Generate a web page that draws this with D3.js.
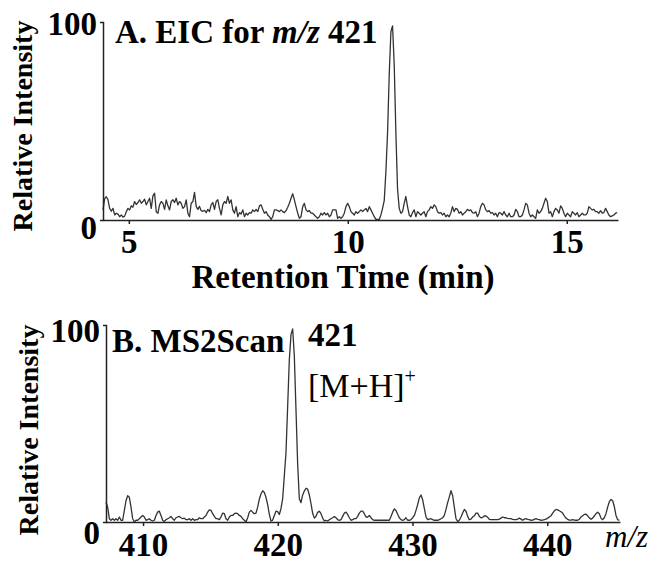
<!DOCTYPE html>
<html>
<head>
<meta charset="utf-8">
<script src="https://cdn.jsdelivr.net/npm/d3@7"></script>
<style>
body { margin: 0; background: #fff; }
</style>
</head>
<body>
<div id="chart"></div>
<script>
var w = 657;
var h = 563;
var serif = '"Liberation Serif", "Times New Roman", Times, serif';

// Panel A: extracted ion chromatogram for m/z 421 (one value per scan)
var eicStart = 4.41;   // first scan, min
var eicStep = 0.038;   // scan interval, min
var eicIntensity = [
  5.2, 11, 12, 10.4, 6, 4.5, 6, 2.6, 3.5, 3, 1.7, 2.6, 1.5, 2, 4.3, 6, 5.2, 7.3, 6.6, 9.5,
  8, 9, 10.4, 8.6, 9.5, 10.7, 7.8, 9.5, 11.2, 6, 12.4, 13.8, 4.3, 3.5, 7.8, 9.5, 8.6, 5.5, 10.4, 7.3,
  5.2, 9.5, 10.4, 9, 11.2, 7.8, 9.5, 8.6, 6, 6.9, 10.4, 3.5, 1.7, 8.6, 9.5, 14.2, 7, 5.5, 7, 4.8,
  4.5, 5, 3.8, 5.5, 4.3, 7.8, 9, 5.5, 9.5, 10.4, 6, 2.6, 7.8, 9.5, 8.6, 12.1, 8.6, 10.4, 5.2, 3.5,
  6.9, 1.7, 3.8, 3.1, 5.2, 1.7, 3.5, 2.6, 3.8, 3.5, 5.2, 4.3, 5.5, 4.3, 7.3, 7.8, 5.5, 3.5, 4.3, 2.6,
  1.7, 0.3, 1.7, 5.2, 5.2, 4.8, 4.3, 5.2, 4.3, 3.8, 4.8, 6.6, 8.6, 11.2, 13.5, 10.4, 6.9, 3.5, 0.9, 1.7,
  6.9, 8.6, 5.2, 4.3, 4.8, 3.5, 3.5, 2.6, 1.7, 0.9, 1.7, 3.5, 2.6, 3.8, 2.6, 3.5, 1.7, 2.6, 5.2, 5.2,
  5.2, 0.9, 1.7, 0.9, 1.7, 3.5, 6.9, 8.6, 6.9, 4.3, 3.5, 2.6, 4.3, 3.5, 4.3, 5.2, 4.3, 5.2, 6, 4.3,
  6.9, 5.2, 3.5, 1.7, 0.3, 0.3, 0.3, 2.6, 6, 10, 25, 45, 75, 97, 100, 80, 45, 16, 6, 3.5,
  4.3, 8.6, 12.1, 6.9, 2.6, 1.7, 3.8, 5.2, 1.7, 4.3, 3.5, 2.6, 3.5, 4.3, 1.7, 4.3, 5.2, 6.9, 6, 7.8,
  6.9, 4.3, 3.5, 3.8, 2.6, 3.5, 1.7, 2.6, 1.7, 3.5, 6.9, 4.3, 6, 5.5, 3.5, 4.3, 2.6, 3.5, 4.3, 5.5,
  4.8, 5.2, 3.8, 3.5, 4.3, 1.7, 3.5, 6.9, 8.6, 7.8, 5.2, 4.3, 4.8, 3.5, 3.8, 2.6, 3.5, 1.7, 3.8, 3.5,
  2.6, 4.3, 2.6, 1.7, 3.5, 1.7, 1.7, 2.6, 5.5, 4.3, 1.7, 1.7, 2.6, 5.2, 8.6, 7.8, 3.5, 1.7, 2.6, 1.7,
  0.9, 5.2, 3.5, 4.3, 6, 8.6, 11.2, 9.5, 3.5, 4.3, 1.7, 4.3, 6, 5.2, 3.5, 7.3, 6, 3.5, 1.7, 3.5,
  2.6, 1.7, 4.3, 3.5, 2.6, 3.8, 1.7, 2.6, 3.5, 2.6, 2.6, 3.5, 6.9, 6, 5.2, 5.5, 4.3, 4.3, 3.5, 4.8,
  3.5, 3.8, 6, 4.3, 2.6, 1.7, 2.1, 2.6, 3.5, 3.8
];
var eicTicks = [5, 10, 15];

// Panel B: MS2 scan profile (one value per m/z step)
var msStart = 407.25;
var msStep = 0.1237;
var msIntensity = [
  10.2, 7.7, 1.7, 0.9, 1.7, 0.9, 1.7, 0.9, 2.6, 0.9, 0.9, 6, 11, 13.6, 12.8, 7.7, 1.7, 0, 0.9, 0.9,
  1.7, 2.6, 3.4, 2.6, 0.9, 1.2, 1.7, 0.9, 0.5, 0.9, 3.4, 5.1, 5.6, 3.4, 0.9, 0.3, 1.2, 1.7, 2.2, 2.9,
  1.7, 0.9, 2.2, 2.6, 2.9, 2.2, 1.7, 2, 1.2, 1.2, 1.7, 0.9, 1.7, 0.9, 1.2, 1.2, 2.2, 1.7, 1.7, 2.6,
  3.4, 5.1, 6.3, 6, 4.3, 2.9, 1.7, 1.7, 1.2, 2.6, 4.6, 4.3, 1.7, 0.9, 2.6, 3.4, 3.4, 4.3, 4.6, 4.3,
  3.4, 2.9, 1.7, 0.9, 0, 2.2, 5.1, 6, 5.1, 4.3, 4.6, 7.7, 11.9, 14.5, 16.2, 15.3, 12.8, 9, 4, 0.5,
  1, 3.4, 5.6, 5.4, 3.9, 7, 12, 24, 36, 60, 84, 97, 100, 86, 58, 30, 12, 10, 14, 16,
  17.5, 17, 14, 9.5, 4.5, 2, 3, 5, 5.6, 4.3, 2, 0.5, 0.9, 0.5, 1.2, 1.7, 2.2, 2.9, 2.2, 1.2,
  0.9, 1.2, 2.9, 4.6, 5.1, 3.9, 2.2, 0.9, 1.2, 1.7, 1.7, 2.9, 4.6, 5.6, 5.6, 4.3, 2.6, 2.6, 3.4, 2.2,
  1.2, 0.9, 0.9, 0.9, 0.9, 0.9, 0.9, 0.9, 0.9, 0.9, 0.9, 2.9, 5.1, 6.8, 6, 4, 2.2, 1.2, 0.9, 1.2,
  2.2, 0.9, 0.9, 1.2, 2.2, 3.4, 6, 9, 12.5, 14, 11.5, 7, 2.6, 1.2, 1.5, 1.7, 1.2, 0.9, 0.9, 0.9,
  1.2, 1.7, 2.2, 3.4, 6.5, 10, 13, 16.2, 13.6, 7.7, 1.7, 0.3, 0.9, 2.6, 4.6, 6.5, 5.6, 2.9, 1.2, 1.5,
  2.6, 3.2, 4.6, 4.6, 2.9, 2.2, 2.4, 3.2, 3.1, 2.4, 1.4, 1.2, 1.2, 1.2, 1.2, 1.2, 1.5, 2, 2.6, 2.2,
  2.2, 1.9, 1.7, 1.7, 1.4, 1.2, 1.2, 1.5, 2, 1.5, 0.9, 1.5, 1.7, 1.4, 1.2, 0.9, 1, 1.4, 1.7, 1.4,
  1.2, 0.9, 1, 1.2, 1.5, 2, 2.6, 3.2, 4.6, 5.8, 6.5, 6.3, 5.8, 5.3, 4.6, 3.2, 2, 1.4, 1, 1,
  1.2, 1, 0.9, 0.9, 1.4, 2.6, 3.2, 3.9, 4.1, 3.2, 2.2, 1.4, 2, 3.1, 4.3, 5.1, 4.3, 2, 1.2, 2.2,
  4.3, 7.7, 10.5, 11.7, 11, 8, 3.4, 1.2, 0.9
];
var msTicks = [410, 420, 430, 440];

var yTicks = [0, 100];

var svg = d3.select("#chart")
            .append("svg")
            .attr("width", w)
            .attr("height", h)
            .style("font-family", serif);

function toPoints(start, step, values) {
    return values.map((v, i) => [start + i * step, v]);
}

function drawPanel(p) {
    var g = svg.append("g");

    // trace
    var line = d3.line()
                 .x(d => p.x(d[0]))
                 .y(d => p.y(d[1]));
    g.append("path")
     .datum(p.data)
     .attr("fill", "none")
     .attr("stroke", "#333")
     .attr("stroke-width", 1.3)
     .attr("stroke-linejoin", "round")
     .attr("d", line);

    // x axis
    var xa = g.append("g")
              .attr("transform", `translate(0, ${p.y(0)})`)
              .call(d3.axisBottom(p.x).tickValues(p.xTicks).tickSizeInner(4).tickSizeOuter(0))
              .attr("font-family", null);
    xa.selectAll("text")
      .attr("y", p.xLabelDy)
      .attr("dy", 0)
      .attr("fill", "#000")
      .style("font-family", serif)
      .style("font-size", "33px")
      .style("font-weight", "bold");

    // y axis
    var ya = g.append("g")
              .attr("transform", `translate(${p.x.range()[0]}, 0)`)
              .call(d3.axisLeft(p.y).tickValues(yTicks).tickSizeInner(0).tickSizeOuter(3).tickPadding(6))
              .attr("font-family", null);
    ya.selectAll("text")
      .attr("dy", d => d === 0 ? p.zeroDy : p.topDy)
      .attr("fill", "#000")
      .style("font-family", serif)
      .style("font-size", "33px")
      .style("font-weight", "bold");

    svg.selectAll(".domain, .tick line")
       .attr("stroke", "#222")
       .attr("stroke-width", 1.5);

    // y axis label
    g.append("text")
     .attr("transform", `translate(${p.yLabelX}, ${p.yLabelY}) rotate(-90)`)
     .attr("text-anchor", "middle")
     .style("font-family", serif)
     .style("font-size", "28px")
     .style("font-weight", "bold")
     .text("Relative Intensity");
}

var xA = d3.scaleLinear().domain([4.41, 16.17]).range([103, 618]);
var yA = d3.scaleLinear().domain([0, 102]).range([220, 22]);
var xB = d3.scaleLinear().domain([407.25, 445.4]).range([106, 620]);
var yB = d3.scaleLinear().domain([0, 102]).range([522, 325]);

drawPanel({ x: xA, y: yA, data: toPoints(eicStart, eicStep, eicIntensity), xTicks: eicTicks,
            xLabelDy: 33, zeroDy: 18, topDy: 9, yLabelX: 32, yLabelY: 126 });
drawPanel({ x: xB, y: yB, data: toPoints(msStart, msStep, msIntensity), xTicks: msTicks,
            xLabelDy: 34, zeroDy: 21, topDy: 13, yLabelX: 38, yLabelY: 430 });

// Panel A title
var tA = svg.append("text")
            .attr("x", 115)
            .attr("y", 43)
            .style("font-size", "33px")
            .style("font-weight", "bold");
tA.append("tspan").text("A. EIC for ");
tA.append("tspan").style("font-style", "italic").text("m/z");
tA.append("tspan").text(" 421");

// x-axis title for panel A
svg.append("text")
   .attr("x", 343)
   .attr("y", 288)
   .attr("text-anchor", "middle")
   .style("font-size", "33px")
   .style("font-weight", "bold")
   .text("Retention Time (min)");

// Panel B title and peak annotation
svg.append("text")
   .attr("x", 112)
   .attr("y", 352)
   .style("font-size", "33px")
   .style("font-weight", "bold")
   .text("B. MS2Scan");

svg.append("text")
   .attr("x", 308)
   .attr("y", 346)
   .style("font-size", "33px")
   .style("font-weight", "bold")
   .text("421");

var ion = svg.append("text")
             .attr("x", 308)
             .attr("y", 397)
             .style("font-size", "34px");
ion.append("tspan").text("[M+H]");
ion.append("tspan").attr("dy", -14).style("font-size", "20px").text("+");

svg.append("text")
   .attr("x", 605)
   .attr("y", 547)
   .style("font-size", "31px")
   .style("font-style", "italic")
   .text("m/z");
</script>
</body>
</html>
